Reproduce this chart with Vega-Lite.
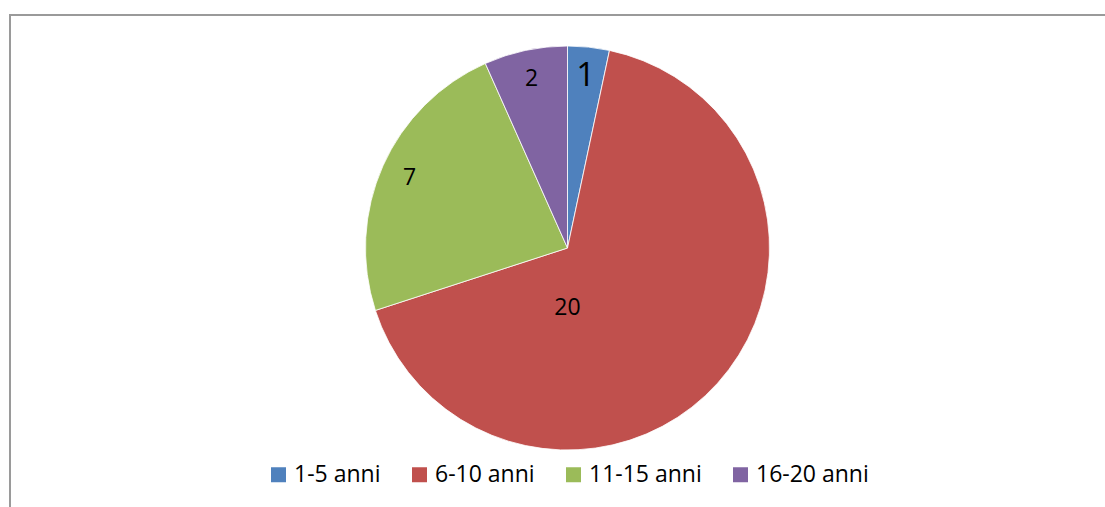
{
  "$schema": "https://vega.github.io/schema/vega-lite/v6.json",
  "autosize": "none",
  "padding": {"left": 10, "top": 15, "right": 0, "bottom": 0},
  "width": 1095,
  "height": 492,
  "background": "white",
  "view": {"stroke": "#9a9a9a", "strokeWidth": 2, "strokeDash": [1095, 1587, 492]},
  "config": {
    "view": {"stroke": "#9a9a9a", "strokeWidth": 2, "strokeDash": [1095, 1587, 492]},
    "style": {"view": {"stroke": "#9a9a9a", "strokeWidth": 2, "strokeDash": [1095, 1587, 492]}},
    "font": "Open Sans"
  },
  "data": {
    "values": [
      {"fascia": "1-5 anni", "n": 1, "i": 1},
      {"fascia": "6-10 anni", "n": 20, "i": 2},
      {"fascia": "11-15 anni", "n": 7, "i": 3},
      {"fascia": "16-20 anni", "n": 2, "i": 4}
    ]
  },
  "resolve": {"scale": {"theta": "independent"}},
  "layer": [
    {
      "mark": {"type": "arc", "outerRadius": 202, "x": 557.5, "y": 233, "stroke": "white", "strokeWidth": 0.8},
      "encoding": {
        "theta": {"field": "n", "type": "quantitative", "stack": true},
        "order": {"field": "i", "type": "quantitative"},
        "color": {
          "field": "fascia",
          "type": "nominal",
          "sort": ["1-5 anni", "6-10 anni", "11-15 anni", "16-20 anni"],
          "scale": {
            "domain": ["1-5 anni", "6-10 anni", "11-15 anni", "16-20 anni"],
            "range": ["#4F81BD", "#C0504D", "#9BBB59", "#8064A2"]
          },
          "legend": {
            "title": null,
            "orient": "none",
            "direction": "horizontal",
            "legendX": 257,
            "legendY": 448,
            "padding": 0,
            "symbolType": "square",
            "symbolSize": 225,
            "symbolStrokeWidth": 0,
            "labelFont": "Open Sans",
            "labelFontSize": 23,
            "labelColor": "#000000",
            "labelOffset": 4,
            "columnPadding": 27
          }
        }
      }
    },
    {
      "mark": {"type": "text", "radius": 173, "x": 557.5, "y": 233, "font": "Open Sans", "color": "#000000", "align": "center", "baseline": "middle"},
      "encoding": {
        "theta": {"field": "n", "type": "quantitative", "stack": true},
        "order": {"field": "i", "type": "quantitative"},
        "text": {"condition": {"test": "datum.n == 20", "value": ""}, "field": "n", "type": "quantitative"},
        "size": {"condition": {"test": "datum.n == 1", "value": 33}, "value": 23}
      }
    },
    {
      "transform": [{"filter": "datum.n == 20"}],
      "mark": {"type": "text", "radius": 60, "x": 557.5, "y": 233, "font": "Open Sans", "fontSize": 23, "color": "#000000", "align": "center", "baseline": "middle"},
      "encoding": {
        "theta": {"field": "n", "type": "quantitative", "stack": true},
        "text": {"field": "n", "type": "quantitative"}
      }
    }
  ]
}
